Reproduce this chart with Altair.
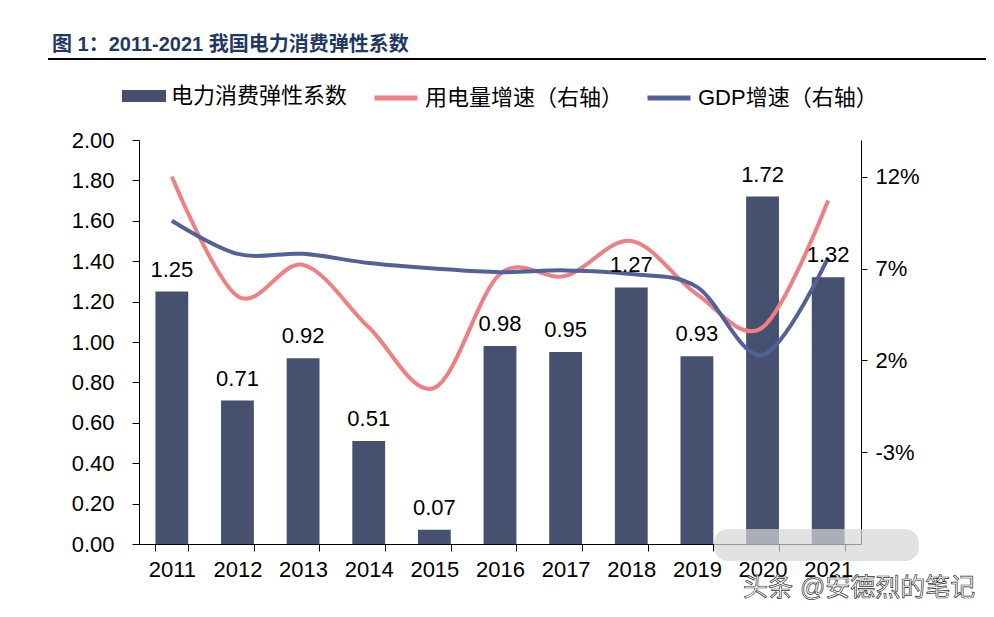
import altair as alt
import pandas as pd

# ---------------- data ----------------
years = ["2011", "2012", "2013", "2014", "2015", "2016", "2017", "2018", "2019", "2020", "2021"]
elasticity = [1.25, 0.71, 0.92, 0.51, 0.07, 0.98, 0.95, 1.27, 0.93, 1.72, 1.32]
elec_growth = [12.0, 5.5, 7.2, 3.8, 0.5, 6.7, 6.6, 8.5, 5.6, 3.8, 10.7]
gdp_growth = [9.6, 7.8, 7.8, 7.3, 7.0, 6.8, 6.9, 6.7, 6.0, 2.3, 7.6]

bar_name = "电力消费弹性系数"
line_names = ["用电量增速（右轴）", "GDP增速（右轴）"]
left_ticks = [0.0, 0.2, 0.4, 0.6, 0.8, 1.0, 1.2, 1.4, 1.6, 1.8, 2.0]
right_ticks = [-3, 2, 7, 12]
title_text = "图 1：2011-2021 我国电力消费弹性系数"
watermark_text = "头条 @安德烈的笔记"

# ---------------- styles ----------------
BAR_COLOR = "#465170"
RED = "#EF7F82"
BLUE = "#53619B"
FONT = "Liberation Sans, Noto Sans CJK SC, sans-serif"

bars_df = pd.DataFrame({"year": years, "value": elasticity, "series": [bar_name] * len(years)})
lines_df = pd.DataFrame({
    "year": years * 2,
    "value": elec_growth + gdp_growth,
    "series": [line_names[0]] * len(years) + [line_names[1]] * len(years),
})

x_axis = alt.Axis(
    title=None, labelAngle=0, tickBand="extent", tickSize=7, grid=False,
    labelFontSize=22, labelFont=FONT, labelColor="black", labelPadding=8,
    domainColor="black", tickColor="black",
)
x_enc = alt.X(
    "year:O",
    sort=years,
    scale=alt.Scale(paddingInner=0.5, paddingOuter=0.25),
    axis=x_axis,
)

bars = alt.Chart(bars_df).mark_bar(color=BAR_COLOR).encode(
    x=x_enc,
    y=alt.Y(
        "value:Q",
        scale=alt.Scale(domain=[0, 2], nice=False, zero=True),
        axis=alt.Axis(
            title=None, values=left_ticks, format=".2f", orient="left",
            tickSize=7, labelPadding=18, labelFontSize=22, labelFont=FONT,
            labelColor="black", domainColor="black", tickColor="black", grid=False,
        ),
    ),
    fill=alt.Fill(
        "series:N",
        scale=alt.Scale(domain=[bar_name], range=[BAR_COLOR]),
        legend=alt.Legend(
            title=None, orient="none", legendX=-17, legendY=-66, padding=0,
            symbolType="M-1,-0.27H1V0.27H-1Z", symbolSize=1936, symbolStrokeWidth=0,
            labelFontSize=22, labelFont=FONT, labelColor="black", labelOffset=5,
            labelLimit=0,
        ),
    ),
)

labels = alt.Chart(bars_df).mark_text(
    baseline="alphabetic", dy=-15, fontSize=22, font=FONT, color="black"
).encode(
    x=x_enc,
    y=alt.Y("value:Q", scale=alt.Scale(domain=[0, 2], nice=False, zero=True), axis=None),
    text=alt.Text("value:Q", format=".2f"),
)

lines = alt.Chart(lines_df).mark_line(strokeWidth=4, interpolate="cardinal").encode(
    x=x_enc,
    y=alt.Y(
        "value:Q",
        scale=alt.Scale(domain=[-8, 14], nice=False, zero=False),
        axis=alt.Axis(
            title=None, orient="right", values=right_ticks,
            labelExpr="datum.value + '%'", tickSize=6, labelPadding=8,
            labelFontSize=22, labelFont=FONT, labelColor="black",
            domainColor="black", tickColor="black", grid=False,
        ),
    ),
    stroke=alt.Stroke(
        "series:N",
        scale=alt.Scale(domain=line_names, range=[RED, BLUE]),
        sort=line_names,
        legend=alt.Legend(
            title=None, orient="none", direction="horizontal", legendX=233, legendY=-66,
            padding=0, symbolType="stroke", symbolStrokeWidth=5, symbolSize=1849,
            columnPadding=13, labelFontSize=22, labelFont=FONT, labelColor="black",
            labelOffset=5, labelLimit=0,
        ),
    ),
    detail="series:N",
)

title_layer = alt.Chart(pd.DataFrame({"t": [title_text]})).mark_text(
    align="left", baseline="middle", fontSize=20, fontWeight="bold",
    font=FONT, color="#1F3864",
).encode(text="t:N", x=alt.value(-87), y=alt.value(-95))

title_rule = alt.Chart(pd.DataFrame({"t": [title_text]})).mark_rule(
    color="black", strokeWidth=2
).encode(x=alt.value(-91), x2=alt.value(847), y=alt.value(-81))

# white cover over the faint top frame line of the plot area
top_cover = alt.Chart(pd.DataFrame({"t": [title_text]})).mark_rule(
    color="white", strokeWidth=3
).encode(x=alt.value(1), x2=alt.value(721), y=alt.value(0))

wm_box = alt.Chart(pd.DataFrame({"t": [watermark_text]})).mark_rect(
    color="#d6d6d6", opacity=0.7, cornerRadius=14
).encode(x=alt.value(575), x2=alt.value(780), y=alt.value(389), y2=alt.value(421))

wm_text = alt.Chart(pd.DataFrame({"t": [watermark_text]})).mark_text(
    align="left", baseline="middle", fontSize=25, font=FONT,
    fill="white", stroke="#333333", strokeWidth=0.7,
).encode(text="t:N", x=alt.value(604), y=alt.value(448))

chart = alt.layer(
    bars, lines, labels, title_layer, title_rule, top_cover, wm_box, wm_text
).resolve_scale(
    y="independent"
).properties(
    width=722, height=404,
    background="white",
    autosize=alt.AutoSizeParams(type="none"),
    padding={"left": 131, "top": 132, "right": 125, "bottom": 58},
).configure_view(stroke="transparent", strokeWidth=0).configure_axis(grid=False)

chart.save("out.html", embed_options={"renderer": "svg", "actions": False})
